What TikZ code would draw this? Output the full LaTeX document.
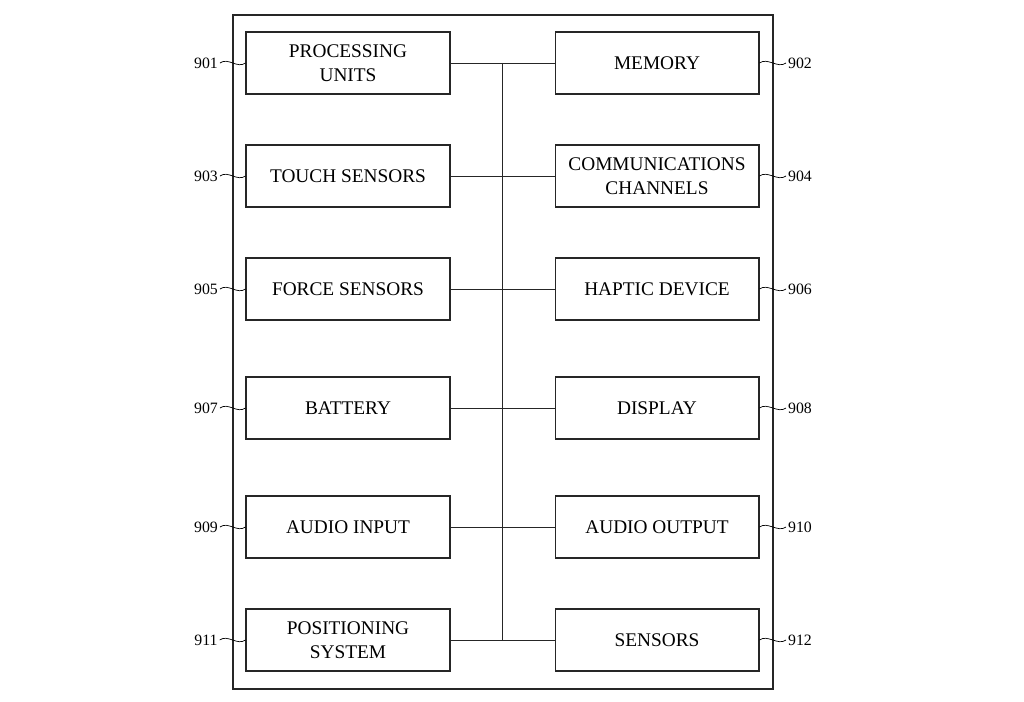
\documentclass[tikz,border=0pt]{standalone}
\usepackage{fontspec}
\setmainfont{Liberation Serif}
\usetikzlibrary{positioning}

\begin{document}
\begin{tikzpicture}[x=0.02cm, y=-0.02cm,
    box/.style={rectangle, draw=black!85, semithick, minimum width=4.08cm, minimum height=1.24cm, align=center, font=\fontsize{11}{14}\selectfont, inner sep=1pt},
    ref/.style={font=\fontsize{9}{9}\selectfont, inner sep=1pt},
    wire/.style={thin, black!85},
    lead/.style={thin}
]
\useasboundingbox (0,0) rectangle (1024,702);

% outer housing
\node[draw=black!85, thick, minimum width=10.8cm, minimum height=13.48cm, inner sep=0pt] (device) at (503,352) {};

% left column
\node[box] (proc)  at (348,63)  {PROCESSING\\UNITS};
\node[box] (touch) at (348,176) {TOUCH SENSORS};
\node[box] (force) at (348,289) {FORCE SENSORS};
\node[box] (batt)  at (348,408) {BATTERY};
\node[box] (ain)   at (348,527) {AUDIO INPUT};
\node[box] (pos)   at (348,640) {POSITIONING\\SYSTEM};

% right column
\node[box] (mem)   at (657,63)  {MEMORY};
\node[box] (comm)  at (657,176) {COMMUNICATIONS\\CHANNELS};
\node[box] (hap)   at (657,289) {HAPTIC DEVICE};
\node[box] (disp)  at (657,408) {DISPLAY};
\node[box] (aout)  at (657,527) {AUDIO OUTPUT};
\node[box] (sens)  at (657,640) {SENSORS};

% bus
\coordinate (bustop) at (502,63);
\coordinate (busbot) at (502,640);
\draw[wire] (bustop) -- (busbot);
\foreach \n in {proc,touch,force,batt,ain,pos}
  \draw[wire] (\n.east) -- (\n.east -| bustop);
\foreach \n in {mem,comm,hap,disp,aout,sens}
  \draw[wire] (\n.west) -- (\n.west -| bustop);

% reference numerals
\foreach \n/\r/\yy in {proc/901/63, touch/903/176, force/905/289, batt/907/408, ain/909/527, pos/911/640}{
  \node[ref] (l\r) at (206,\yy) {\r};
  \draw[lead] (l\r.east) .. controls +(8,-6) and +(-8,6) .. (\n.west);
}
\foreach \n/\r/\yy in {mem/902/63, comm/904/176, hap/906/289, disp/908/408, aout/910/527, sens/912/640}{
  \node[ref] (l\r) at (800,\yy) {\r};
  \draw[lead] (\n.east) .. controls +(8,-6) and +(-8,6) .. (l\r.west);
}
\end{tikzpicture}
\end{document}
